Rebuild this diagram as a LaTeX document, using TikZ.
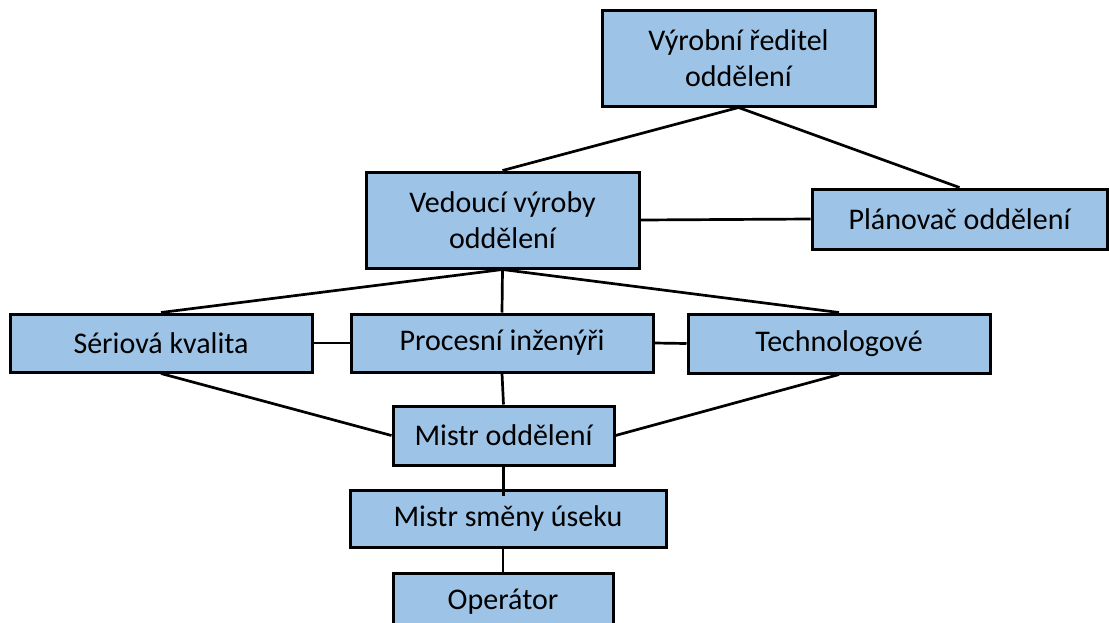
\documentclass[tikz,border=0pt]{standalone}
\usepackage{fontspec}
\setmainfont{Carlito}
\definecolor{boxfill}{HTML}{9DC3E6}
\begin{document}
\begin{tikzpicture}[x=1pt,y=-1pt,
  orgbox/.style={draw=black, line width=3pt, fill=boxfill, inner sep=0pt,
    align=center, font=\fontsize{30}{36}\selectfont,
    minimum width=#1},
  link/.style={line width=2.7pt, black}]
\useasboundingbox (0,0) rectangle (1109,622);
\clip (0,0) rectangle (1109,622);

% boxes
\node[orgbox=273pt, minimum height=96pt] (vr) at (738.5,58) {Výrobní ředitel\\oddělení};
\node[orgbox=273pt, minimum height=96pt] (ve) at (502.5,220) {Vedoucí výroby\\oddělení};
\node[orgbox=295pt, minimum height=60pt] (pl) at (959.5,219) {Plánovač oddělení};
\node[orgbox=302pt, minimum height=58pt] (sk) at (161,343) {Sériová kvalita};
\node[orgbox=302pt, minimum height=58pt] (pi) at (502,343) {Procesní inženýři};
\node[orgbox=302pt, minimum height=59pt] (te) at (839,343.5) {Technologové};
\node[orgbox=221pt, minimum height=59pt] (mo) at (503.5,435.5) {Mistr oddělení};
\node[orgbox=316pt, minimum height=57pt] (ms) at (508,518.5) {Mistr směny úseku};
\node[orgbox=220pt, minimum height=58pt] (op) at (503,602) {Operátor};

% connectors
\draw[link] (vr.south) -- (ve.north);
\draw[link] (vr.south) -- (pl.north);
\draw[link] (ve.east) -- (pl.west);
\draw[link] (ve.south) -- (sk.north);
\draw[link] (ve.south) -- (pi.north);
\draw[link] (ve.south) -- (te.north);
\draw[link] (sk.east) -- (pi.west);
\draw[link] (pi.east) -- (te.west);
\draw[link] (sk.south) -- (mo.west);
\draw[link] (te.south) -- (mo.east);
\draw[link] (pi.south) -- (mo.north);
\draw[link] (mo.south) -- ([yshift=-7pt]mo.south |- ms.north);
\draw[link] ([yshift=3pt]op.north |- ms.south) -- (op.north);
\end{tikzpicture}
\end{document}
